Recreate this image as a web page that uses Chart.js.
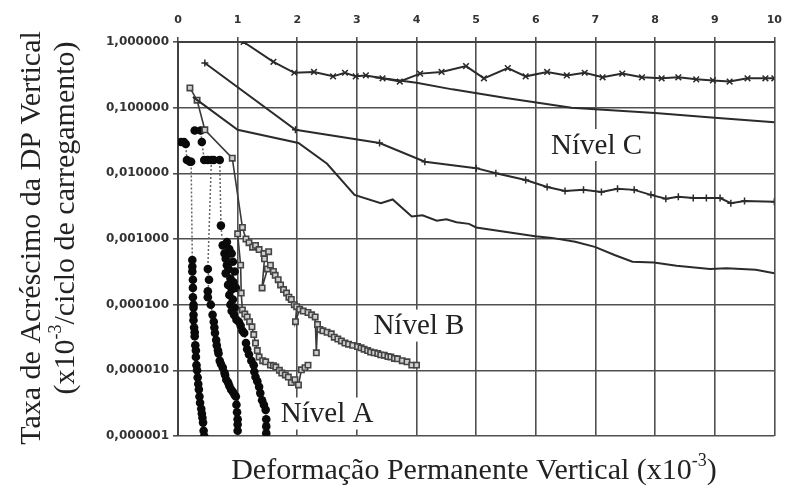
<!DOCTYPE html>
<html>
<head>
<meta charset="utf-8">
<script src="https://cdn.jsdelivr.net/npm/chart.js@4.4.1/dist/chart.umd.min.js"></script>
<style>
  html, body { margin: 0; padding: 0; background: #fff; }
  #wrap { width: 792px; height: 489px; }
</style>
</head>
<body>
<div id="wrap"><canvas id="chart" width="792" height="489"></canvas></div>
<script>
// -------------- taxa de acréscimo da DP x deformação permanente --------------

// eixo x (topo) e décadas do eixo y
const xTicks = [0, 1, 2, 3, 4, 5, 6, 7, 8, 9, 10];
const yDecades = [1e-6, 1e-5, 1e-4, 1e-3, 1e-2, 1e-1, 1];

// Nível C - [deformação, taxa]
const nivelC1 = [[1.1,1.0],[1.6,0.5],[1.95,0.34],[2.28,0.35],[2.6,0.30],[2.8,0.34],[2.98,0.30],[3.15,0.31],
    [3.43,0.28],[3.72,0.25],[4.06,0.33],[4.42,0.35],[4.83,0.43],[5.13,0.28],[5.53,0.40],[5.83,0.30],
    [6.19,0.35],[6.52,0.31],[6.82,0.34],[7.12,0.29],[7.45,0.33],[7.78,0.29],[8.11,0.28],[8.39,0.29],
    [8.69,0.27],[8.97,0.26],[9.25,0.25],[9.55,0.28],[9.85,0.28],[10.0,0.28]];
const nivelC2 = [[3.3,0.29],[4.0,0.24],[4.6,0.19],[5.5,0.14],[6.6,0.10],[8.0,0.083],[9.0,0.07],[10.0,0.06]];
const nivelC3 = [[0.45,0.48],[1.97,0.046],[3.38,0.029],[4.14,0.015],[5.0,0.012],[5.33,0.010],[5.83,0.0079],
    [6.19,0.0062],[6.49,0.0054],[6.8,0.0056],[7.1,0.0052],[7.37,0.0058],[7.65,0.0056],[7.93,0.0047],
    [8.18,0.0041],[8.39,0.0044],[8.64,0.0042],[8.86,0.0042],[9.09,0.0042],[9.27,0.0035],[9.5,0.0038],[10.0,0.0037]];
const nivelC4 = [[0.25,0.146],[1.0,0.046],[2.02,0.029],[2.5,0.014],[2.96,0.0047],[3.4,0.0035],[3.6,0.0040],
    [3.92,0.0022],[4.1,0.0023],[4.34,0.0019],[4.5,0.0020],[4.67,0.0018],[4.88,0.0017],[5.0,0.0015],
    [5.99,0.0011],[6.27,0.00104],[6.66,0.00091],[6.99,0.00076],[7.32,0.00057],[7.62,0.00045],[7.98,0.00044],
    [8.36,0.00039],[8.92,0.00035],[9.2,0.00036],[9.69,0.00034],[10.0,0.00030]];

// Nível B
const nivelB1 = [[0.2,0.2],[0.32,0.13],[0.45,0.046],[0.91,0.017],[1.08,0.0015],[1.14,0.001],[1.19,0.00088],
    [1.25,0.00075],[1.3,0.0008],[1.36,0.00069],[1.44,0.0006],[1.52,0.00064],[1.45,0.0005],[1.41,0.00018],
    [1.5,0.00035],[1.55,0.0004],[1.6,0.00032],[1.63,0.00028],[1.68,0.00024],[1.72,0.0002],[1.77,0.00017],
    [1.82,0.00015],[1.86,0.00013],[1.9,0.00012],[1.95,0.0001],[1.99,0.000093],[1.97,0.000055],[2.04,0.000085],
    [2.1,0.00008],[2.18,0.000076],[2.24,0.00007],[2.3,0.000065],[2.32,0.0000185],[2.34,0.00005],[2.38,0.000042],
    [2.43,0.00004],[2.5,0.000038],[2.57,0.000036],[2.62,0.000032],[2.68,0.00003],[2.74,0.000028],[2.8,0.000026],
    [2.86,0.000025],[2.93,0.000024],[3.01,0.000023],[3.07,0.000022],[3.12,0.000021],[3.18,0.00002],
    [3.23,0.000019],[3.29,0.0000185],[3.35,0.000018],[3.4,0.0000172],[3.46,0.000017],[3.52,0.0000162],
    [3.57,0.000016],[3.63,0.0000152],[3.68,0.000015],[3.76,0.000014],[3.84,0.0000135],[3.92,0.000012],[4.0,0.000012]];
const nivelB2 = [[1.0,0.0012],[1.05,0.0004],[1.06,0.00015],[1.08,0.000083],[1.12,0.000072],[1.16,0.000065],
    [1.2,0.000055],[1.24,0.000046],[1.27,0.000035],[1.3,0.000026],[1.33,0.00002],[1.36,0.000016],[1.42,0.000014],
    [1.47,0.0000135],[1.55,0.000012],[1.6,0.0000118],[1.64,0.0000112],[1.7,0.00001],[1.74,0.0000091],
    [1.8,0.0000085],[1.85,0.0000079],[1.9,0.0000065],[1.96,0.0000072],[2.02,0.000006],[2.07,0.0000102],
    [2.13,0.000011],[2.18,0.000012]];

// Nível A
const nivelA1 = [[0.05,0.030],[0.1,0.030],[0.13,0.028],[0.15,0.016],[0.2,0.015],[0.22,0.015],
    [0.24,0.00048],[0.24,0.00038],[0.24,0.00032],[0.25,0.00024],[0.25,0.00018],[0.25,0.00013],[0.26,0.0001],
    [0.26,0.00009],[0.26,0.00007],[0.26,0.000058],[0.27,0.000045],[0.28,0.000038],[0.28,0.000033],
    [0.29,0.000024],[0.3,0.00002],[0.3,0.000016],[0.31,0.000012],[0.32,0.00001],[0.33,0.0000078],
    [0.34,0.0000062],[0.35,0.0000051],[0.36,0.000004],[0.37,0.0000032],[0.39,0.0000026],[0.4,0.0000022],
    [0.41,0.0000019],[0.42,0.0000016],[0.43,0.0000012],[0.44,0.000001]];
const nivelA2 = [[0.28,0.045],[0.38,0.045],[0.4,0.03],[0.44,0.016],[0.5,0.016],[0.56,0.016],
    [0.5,0.00035],[0.52,0.00024],[0.5,0.00016],[0.5,0.00013],[0.55,0.0001],[0.58,0.00007],[0.6,0.000055],
    [0.61,0.000045],[0.62,0.000037],[0.64,0.000029],[0.65,0.000024],[0.67,0.00002],[0.68,0.000018],
    [0.7,0.000014],[0.72,0.0000125],[0.75,0.000011],[0.78,0.0000092],[0.79,0.0000085],[0.81,0.0000072],
    [0.84,0.0000065],[0.86,0.0000058],[0.89,0.0000051],[0.92,0.0000047],[0.95,0.0000042],[0.97,0.000004],
    [0.98,0.000003],[0.99,0.0000023],[1.0,0.0000018],[1.0,0.0000015],[1.0,0.0000012]];
const nivelA3 = [[0.6,0.016],[0.7,0.016],[0.72,0.0016],[0.75,0.0008],[0.82,0.0009],[0.78,0.0006],[0.86,0.0007],
    [0.8,0.0005],[0.9,0.0006],[0.82,0.0004],[0.92,0.00045],[0.85,0.00035],[0.95,0.00032],[0.8,0.0003],
    [0.88,0.00025],[0.93,0.00022],[0.84,0.0002],[0.9,0.00017],[0.97,0.00018],[0.86,0.00014],[0.92,0.00012],
    [0.88,0.0001],[0.95,0.00009],[0.9,0.00008],[0.94,0.00007],[0.98,0.000059],[1.02,0.000055],[1.05,0.000048],
    [1.08,0.00004],[1.11,0.000037],[1.14,0.000026],[1.16,0.000021],[1.19,0.0000174],[1.23,0.000014],
    [1.27,0.000012],[1.28,0.0000095],[1.3,0.0000079],[1.33,0.0000068],[1.36,0.0000056],[1.38,0.0000045],
    [1.41,0.0000035],[1.44,0.000003],[1.47,0.0000025],[1.48,0.0000018],[1.48,0.0000014],[1.48,0.0000011]];

// rótulos dos níveis
const nivelLabels = ['Nível A', 'Nível B', 'Nível C'];
const nivelAnchors = [[2.5, 0.0000022], [4.04, 0.000048], [7.02, 0.027]];

const toXY = arr => arr.map(([x, y]) => ({ x, y }));

const lineC = { showLine: true, borderColor: '#2b2b2b', borderWidth: 2, pointRadius: 0, fill: false };
const lineB = { showLine: true, borderColor: '#3a3a3a', borderWidth: 1.6, pointStyle: 'rect', pointRadius: 3.8,
    pointBorderWidth: 1.6, pointBorderColor: '#444', pointBackgroundColor: '#cfcfcf' };
const lineA = { showLine: true, borderColor: '#666', borderWidth: 1.5, borderDash: [2, 2], pointStyle: 'circle',
    pointRadius: 4.3, pointBorderWidth: 0, pointBackgroundColor: '#0a0a0a' };

const datasets = [
    { ...lineC, data: toXY(nivelC2) },
    { ...lineC, data: toXY(nivelC4) },
    { ...lineC, data: toXY(nivelC1), pointStyle: 'crossRot', pointRadius: 4, pointBorderWidth: 1.5, pointBorderColor: '#2b2b2b' },
    { ...lineC, data: toXY(nivelC3), pointStyle: 'cross', pointRadius: 3.5, pointBorderWidth: 1.5, pointBorderColor: '#2b2b2b' },
    { ...lineB, data: toXY(nivelB1) },
    { ...lineB, data: toXY(nivelB2) },
    { ...lineA, data: toXY(nivelA1) },
    { ...lineA, data: toXY(nivelA2) },
    { ...lineA, data: toXY(nivelA3) }
];

const serif = '"Liberation Serif", "Times New Roman", serif';

// texto com expoente (x10^-3)
function drawRich(ctx, parts, cx, cy, size) {
    const big = size + 'px ' + serif, small = Math.round(size * 0.6) + 'px ' + serif;
    let w = 0;
    parts.forEach(p => { ctx.font = p.sup ? small : big; w += ctx.measureText(p.t).width; });
    let x = cx - w / 2;
    ctx.textBaseline = 'alphabetic';
    ctx.textAlign = 'left';
    parts.forEach(p => {
        ctx.font = p.sup ? small : big;
        ctx.fillText(p.t, x, p.sup ? cy - size * 0.42 : cy);
        x += ctx.measureText(p.t).width;
    });
}

const textPlugin = {
    id: 'texts',
    afterDatasetsDraw(chart) {
        const { ctx, scales: { x, y } } = chart;
        ctx.save();
        ctx.font = '29px ' + serif;
        ctx.textAlign = 'center';
        ctx.textBaseline = 'middle';
        nivelLabels.forEach((t, i) => {
            const px = x.getPixelForValue(nivelAnchors[i][0]);
            const py = y.getPixelForValue(nivelAnchors[i][1]);
            const w = ctx.measureText(t).width;
            ctx.fillStyle = '#fff';
            ctx.fillRect(px - w / 2 - 3, py - 16, w + 6, 32);
            ctx.fillStyle = '#222';
            ctx.fillText(t, px, py + 1);
        });
        ctx.restore();
    },
    afterDraw(chart) {
        const { ctx } = chart;
        ctx.save();
        ctx.fillStyle = '#222';
        drawRich(ctx, [{ t: 'Deformação Permanente Vertical (x10' }, { t: '-3', sup: true }, { t: ')' }], 474, 479, 30);
        ctx.save();
        ctx.translate(40, 238);
        ctx.rotate(-Math.PI / 2);
        drawRich(ctx, [{ t: 'Taxa de Acréscimo da DP Vertical' }], 0, 0, 30);
        ctx.restore();
        ctx.save();
        ctx.translate(74, 218);
        ctx.rotate(-Math.PI / 2);
        drawRich(ctx, [{ t: '(x10' }, { t: '-3', sup: true }, { t: '/ciclo de carregamento)' }], 0, 0, 30);
        ctx.restore();
        ctx.restore();
    }
};

const tickFont = { family: '"DejaVu Sans", sans-serif', size: 12, weight: 'bold' };

new Chart(document.getElementById('chart').getContext('2d'), {
    type: 'scatter',
    data: { datasets },
    options: {
        responsive: false,
        animation: false,
        layout: { padding: { left: 0, right: 10, top: 0, bottom: 53 } },
        plugins: { legend: { display: false }, tooltip: { enabled: false } },
        scales: {
            x: {
                type: 'linear',
                position: 'top',
                min: 0,
                max: 10,
                afterBuildTicks: s => { s.ticks = xTicks.map(v => ({ value: v })); },
                afterFit: s => { s.height = 42; },
                ticks: { font: { ...tickFont, size: 11 }, color: '#333', padding: 10, maxRotation: 0 },
                grid: { color: '#505050', lineWidth: 1.6, tickLength: 5, tickColor: '#505050' },
                border: { color: '#404040', width: 2 }
            },
            y: {
                type: 'logarithmic',
                min: 1e-6,
                max: 1,
                afterBuildTicks: s => { s.ticks = yDecades.map(v => ({ value: v })); },
                afterFit: s => { s.width = 178; },
                ticks: {
                    font: tickFont, color: '#333', padding: 4,
                    callback: v => v.toFixed(6).replace('.', ',')
                },
                grid: { color: '#505050', lineWidth: 1.6, tickLength: 5, tickColor: '#505050' },
                border: { color: '#404040', width: 2 }
            }
        }
    },
    plugins: [textPlugin]
});
</script>
</body>
</html>
